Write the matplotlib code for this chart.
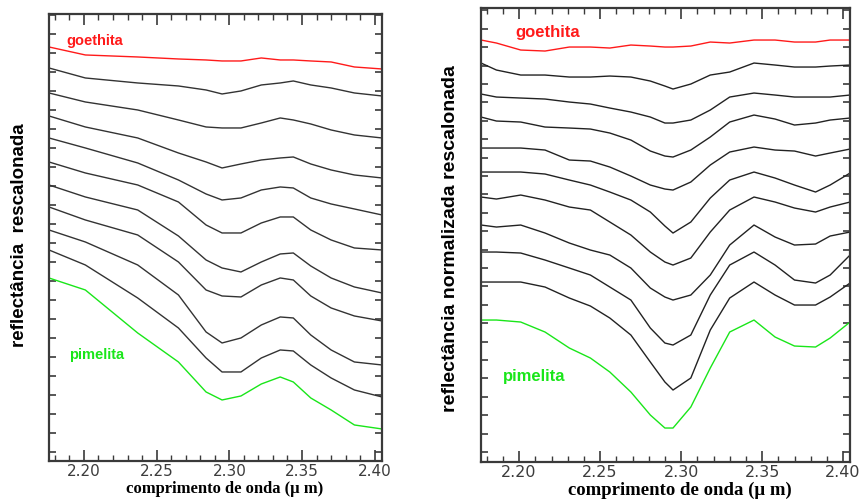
import matplotlib.pyplot as plt
from matplotlib.ticker import MultipleLocator, FixedLocator, NullFormatter
import numpy as np

# painel esquerdo: reflectância rescalonada
wl_left = [2.176, 2.201, 2.237, 2.265, 2.284, 2.295, 2.308, 2.322, 2.335, 2.344, 2.356, 2.370, 2.386, 2.405]
goethita_left = [41.4, 40.6, 40.4, 40.2, 40.1, 40.0, 40.0, 40.3, 40.1, 40.1, 40.0, 39.9, 39.4, 39.2]
mix_left = [
    [39.3, 38.3, 37.8, 37.5, 37.1, 36.7, 37.0, 37.6, 37.8, 38.0, 37.6, 37.3, 36.8, 36.5],
    [36.8, 35.9, 35.1, 34.1, 33.4, 33.3, 33.3, 33.8, 34.3, 34.1, 33.7, 33.1, 32.6, 32.3],
    [34.5, 33.4, 32.3, 30.8, 29.9, 29.3, 29.7, 30.1, 30.3, 30.4, 29.7, 29.1, 28.6, 28.3],
    [32.3, 31.3, 29.8, 28.1, 26.7, 26.1, 26.3, 27.1, 27.4, 27.3, 26.3, 25.7, 25.2, 24.6],
    [29.9, 28.8, 27.6, 25.9, 23.6, 22.8, 22.8, 23.8, 24.4, 24.4, 23.1, 22.1, 21.3, 21.1],
    [27.6, 26.4, 25.1, 22.5, 20.1, 19.3, 18.9, 19.9, 20.7, 20.8, 19.5, 18.3, 17.4, 16.8],
    [25.4, 24.1, 22.6, 19.9, 17.1, 16.5, 16.4, 17.6, 18.3, 18.1, 16.5, 15.3, 14.5, 14.0],
    [23.1, 21.9, 19.6, 16.6, 12.9, 11.8, 12.3, 13.6, 14.4, 14.3, 12.6, 11.1, 9.9, 9.6],
    [21.1, 19.6, 16.3, 13.3, 10.3, 8.9, 8.9, 10.3, 11.1, 11.0, 9.6, 8.3, 7.1, 6.4],
]
pimelita_left = [18.3, 17.1, 12.8, 9.9, 6.9, 6.1, 6.5, 7.7, 8.4, 7.9, 6.3, 5.1, 3.6, 3.2]

# painel direito: reflectância normalizada rescalonada
wl_right = [2.1765, 2.186, 2.201, 2.216, 2.231, 2.244, 2.256, 2.269, 2.281, 2.290,
            2.295, 2.306, 2.318, 2.330, 2.345, 2.358, 2.370, 2.383, 2.392, 2.4043]
goethita_right = [42.2, 41.9, 41.2, 41.1, 41.5, 41.5, 41.4, 41.7, 41.6, 41.5,
                  41.5, 41.6, 42.0, 41.9, 42.2, 42.2, 42.0, 42.0, 42.2, 42.2]
mix_right = [
    [39.9, 39.2, 38.7, 38.7, 38.5, 38.5, 38.6, 38.5, 38.1, 37.6, 37.3, 37.8, 38.7, 39.0, 39.9, 39.7, 39.5, 39.5, 39.6, 39.7],
    [36.8, 36.5, 36.4, 36.3, 36.0, 35.8, 35.4, 35.0, 34.5, 33.9, 33.9, 34.2, 35.2, 36.5, 36.9, 36.7, 36.5, 36.5, 36.5, 36.7],
    [34.5, 34.1, 34.0, 33.5, 33.4, 33.3, 32.9, 32.2, 31.1, 30.6, 30.5, 31.2, 32.5, 34.0, 34.7, 34.3, 33.7, 33.9, 34.2, 34.4],
    [31.4, 31.4, 31.4, 31.2, 30.2, 30.1, 29.5, 28.6, 27.7, 27.3, 27.2, 28.0, 29.7, 31.0, 31.5, 31.2, 31.1, 30.6, 30.9, 31.3],
    [29.0, 29.0, 29.0, 28.8, 28.2, 27.7, 27.0, 26.2, 25.0, 23.6, 22.9, 24.0, 26.4, 28.2, 29.0, 28.4, 27.7, 27.0, 27.7, 28.9],
    [26.5, 26.3, 26.7, 26.2, 25.5, 25.2, 24.0, 22.7, 21.0, 20.0, 19.7, 20.4, 23.0, 25.2, 26.5, 26.0, 25.4, 25.0, 25.5, 26.0],
    [23.7, 23.5, 23.7, 22.9, 21.9, 21.2, 20.7, 19.4, 17.4, 16.5, 16.2, 16.7, 18.7, 21.7, 23.7, 22.5, 21.7, 21.8, 22.6, 23.0],
    [21.0, 21.0, 20.9, 20.2, 19.4, 18.7, 17.5, 16.2, 13.4, 11.9, 11.7, 12.7, 16.7, 19.7, 21.0, 19.7, 18.2, 17.9, 18.7, 20.7],
    [18.0, 18.0, 18.0, 17.5, 16.4, 15.6, 14.4, 12.7, 10.0, 8.0, 7.2, 8.4, 13.2, 16.4, 18.0, 16.7, 15.7, 15.7, 16.5, 17.9],
]
pimelita_right = [14.2, 14.2, 14.0, 13.0, 11.4, 10.4, 9.0, 7.0, 4.7, 3.4,
                  3.4, 5.5, 9.4, 13.0, 14.2, 12.5, 11.6, 11.5, 12.4, 14.0]

xticks = [2.20, 2.25, 2.30, 2.35, 2.40]
xticklabels = ['2.20', '2.25', '2.30', '2.35', '2.40']

RED = '#ff1a1a'
GREEN = '#19e619'
FRAME = '#3a3a3a'

fig = plt.figure(figsize=(8.61, 4.99), dpi=100)

ax1 = fig.add_axes([0.0569, 0.0762, 0.3868, 0.8958])
ax2 = fig.add_axes([0.5587, 0.0741, 0.4286, 0.9098])


def style_axis(ax, x0, x1, ytop, ystart, ystep, labelsize):
    ax.set_xlim(x0, x1)
    ax.set_ylim(0, ytop)
    ax.set_xticks(xticks)
    ax.set_xticklabels(xticklabels)
    ax.xaxis.set_minor_locator(MultipleLocator(0.01))
    ax.yaxis.set_major_locator(FixedLocator(np.arange(ystart, ytop, ystep)))
    ax.yaxis.set_major_formatter(NullFormatter())
    ax.tick_params(axis='x', which='major', direction='in', length=8, width=1.2,
                   top=True, bottom=True, color=FRAME, labelsize=labelsize,
                   labelcolor='#3c3c3c', pad=2)
    ax.tick_params(axis='x', which='minor', direction='in', length=4, width=1.0,
                   top=True, bottom=True, color=FRAME)
    ax.tick_params(axis='y', which='major', direction='in', length=5, width=1.2,
                   left=True, right=True, color=FRAME)
    for s in ax.spines.values():
        s.set_color(FRAME)
        s.set_linewidth(1.6)


# painel esquerdo
ax1.plot(wl_left, goethita_left, color=RED, lw=1.0)
for curve in mix_left:
    ax1.plot(wl_left, curve, color='#333333', lw=1.0)
ax1.plot(wl_left, pimelita_left, color=GREEN, lw=1.0)
style_axis(ax1, wl_left[0], wl_left[-1], 44.7, 0.9, 1.9, 11)
ax1.text(2.188, 42.0, 'goethita', color=RED, fontsize=10.5, fontweight='bold',
         family='Liberation Sans', va='center', ha='left')
ax1.text(2.190, 10.6, 'pimelita', color=GREEN, fontsize=10.5, fontweight='bold',
         family='Liberation Sans', va='center', ha='left')

# painel direito
ax2.plot(wl_right, goethita_right, color=RED, lw=1.0)
for curve in mix_right:
    ax2.plot(wl_right, curve, color='#222222', lw=1.0)
ax2.plot(wl_right, pimelita_right, color=GREEN, lw=1.0)
style_axis(ax2, wl_right[0], wl_right[-1], 45.4, 1.0, 1.84, 11.5)
ax2.text(2.1975, 43.0, 'goethita', color=RED, fontsize=12, fontweight='bold',
         family='Liberation Sans', va='center', ha='left')
ax2.text(2.1901, 8.6, 'pimelita', color=GREEN, fontsize=12, fontweight='bold',
         family='Liberation Sans', va='center', ha='left')

# rótulos dos eixos
fig.text(0.023, 0.529, 'reflectância  rescalonada', rotation=90, fontsize=13.5,
         fontweight='bold', family='Liberation Sans', ha='center', va='center')
fig.text(0.523, 0.521, 'reflectância normalizada rescalonada', rotation=90, fontsize=14,
         fontweight='bold', family='Liberation Sans', ha='center', va='center')
fig.text(225 / 861, 1 - 489 / 499, 'comprimento de onda (μ m)', fontsize=12,
         fontweight='bold', family='Liberation Serif', ha='center', va='center')
fig.text(680 / 861, 1 - 490 / 499, 'comprimento de onda (μ m)', fontsize=13.5,
         fontweight='bold', family='Liberation Serif', ha='center', va='center')

fig.savefig('out.png', dpi=100)
